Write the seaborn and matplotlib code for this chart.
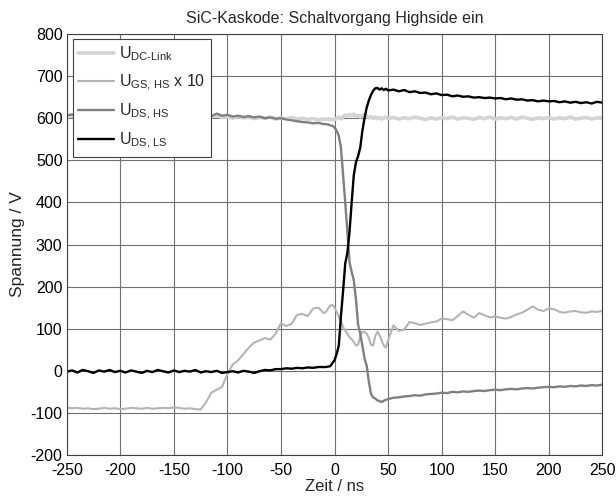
import numpy as np
import pandas as pd
import matplotlib
matplotlib.use("Agg")
import matplotlib.pyplot as plt
import seaborn as sns

# ---- data ----
t_ns = [-250, -245, -240, -235, -230, -225, -220, -215, -210, -205,
        -200, -195, -190, -185, -180, -175, -170, -165, -160, -155,
        -150, -145, -140, -135, -130, -125, -120, -115, -110, -105,
        -100, -95, -90, -85, -80, -75, -70, -65, -60, -55,
        -50, -45, -40, -35, -30, -25, -20, -15, -10,
        -8, -6, -4, -2, 0, 2, 4, 6, 8, 10, 12, 14, 16, 18, 20,
        22, 24, 26, 28, 30, 32, 34, 36, 38, 40, 42, 44, 46, 48, 50,
        55, 60, 65, 70, 75, 80, 85, 90, 95, 100,
        105, 110, 115, 120, 125, 130, 135, 140, 145, 150,
        155, 160, 165, 170, 175, 180, 185, 190, 195, 200,
        205, 210, 215, 220, 225, 230, 235, 240, 245, 250]

u_dc_link = [603, 606, 601, 604, 607, 602, 605, 600, 604, 606,
             601, 605, 603, 600, 604, 606, 602, 605, 601, 603,
             606, 602, 604, 600, 605, 603, 601, 604, 606, 602,
             603, 600, 604, 601, 603, 599, 602, 600, 603, 598,
             601, 599, 602, 598, 600, 597, 599, 596, 598,
             597, 599, 596, 598, 597, 600, 603, 598, 604, 608, 605, 609, 606, 610, 604,
             607, 603, 608, 602, 606, 601, 604, 600, 603, 599, 602, 598, 601, 603, 599,
             602, 598, 601, 599, 603, 600, 597, 601, 598, 602,
             599, 603, 598, 601, 600, 597, 602, 599, 603, 598,
             601, 599, 602, 598, 603, 600, 597, 601, 599, 602,
             598, 601, 599, 603, 598, 600, 602, 598, 601, 600]

u_gs_hs_x10 = [-87, -89, -88, -90, -89, -91, -90, -88, -90, -89,
               -91, -90, -88, -89, -90, -88, -90, -89, -88, -89,
               -87, -88, -90, -89, -91, -92, -75, -52, -45, -38,
               -8, 15, 25, 40, 55, 67, 72, 78, 74, 88,
               113, 106, 112, 133, 135, 130, 148, 150, 137,
               140, 148, 155, 157, 150, 140, 129, 118, 104, 95, 88, 80, 75, 68, 60,
               62, 82, 93, 92, 89, 78, 62, 60, 82, 93, 85, 72, 60, 55, 72,
               108, 95, 98, 116, 113, 109, 112, 115, 117, 124,
               123, 120, 130, 141, 133, 126, 137, 132, 127, 129,
               126, 124, 128, 134, 138, 145, 153, 145, 142, 148,
               146, 140, 138, 141, 142, 139, 138, 141, 140, 142]

u_ds_hs = [607, 609, 605, 608, 606, 610, 607, 604, 608, 606,
           609, 605, 607, 604, 608, 606, 603, 607, 605, 608,
           604, 607, 605, 603, 606, 604, 607, 605, 611, 606,
           608, 604, 606, 603, 605, 602, 604, 600, 602, 599,
           600, 597, 595, 593, 591, 590, 588, 589, 586,
           586, 585, 583, 582, 578, 570, 558, 530, 465, 400, 330, 258, 235, 215, 170,
           110, 88, 60, 30, 12, -25, -55, -63, -66, -70, -72, -74, -71, -69, -67,
           -64, -63, -61, -60, -58, -59, -56, -55, -54, -52,
           -53, -50, -51, -49, -50, -48, -47, -48, -46, -45,
           -46, -44, -43, -44, -42, -41, -42, -40, -39, -38,
           -39, -37, -38, -36, -37, -35, -36, -34, -35, -33]

u_ds_ls = [-2, 1, -4, 2, -1, -5, 1, -2, 2, -3,
           0, -4, 1, -2, -5, 0, -3, 2, -1, -4,
           1, -3, 0, -2, 2, -4, -1, -3, 0, -5,
           -3, -1, -4, 0, -2, -5, -1, 2, 1, 4,
           4, 6, 5, 7, 6, 8, 7, 9, 9,
           9, 10, 11, 18, 25, 40, 60, 130, 190, 255, 280, 330, 400, 465, 495,
           510, 530, 570, 600, 625, 642, 655, 665, 671, 672, 668, 671, 667, 670, 666,
           668, 664, 667, 662, 664, 660, 661, 657, 659, 655,
           656, 652, 654, 651, 652, 649, 650, 648, 649, 647,
           648, 645, 647, 644, 645, 642, 643, 640, 642, 640,
           641, 638, 640, 637, 639, 636, 638, 635, 639, 637]

series_labels = [r'U$_\text{DC-Link}$', r'U$_\text{GS, HS}$ x 10',
                 r'U$_\text{DS, HS}$', r'U$_\text{DS, LS}$']
x_ticks = [-250, -200, -150, -100, -50, 0, 50, 100, 150, 200, 250]
y_ticks = [-200, -100, 0, 100, 200, 300, 400, 500, 600, 700, 800]

# ---- style ----
sns.set_style("white")
plt.rcParams['font.family'] = ['Liberation Sans', 'DejaVu Sans']
plt.rcParams['axes.unicode_minus'] = False
plt.rcParams['mathtext.fontset'] = 'custom'
plt.rcParams['mathtext.rm'] = 'Liberation Sans'
plt.rcParams['mathtext.it'] = 'Liberation Sans:italic'
plt.rcParams['mathtext.bf'] = 'Liberation Sans:bold'

fig = plt.figure(figsize=(6.16, 4.97), dpi=100)
ax = fig.add_axes([0.1083, 0.0845, 0.8695, 0.847])

series = [u_dc_link, u_gs_hs_x10, u_ds_hs, u_ds_ls]
colors = ['#d4d4d4', '#b4b4b4', '#808080', '#000000']
widths = [2.6, 1.5, 1.7, 1.7]
for vals, lab, c, w in zip(series, series_labels, colors, widths):
    sns.lineplot(x=t_ns, y=vals, ax=ax, color=c, lw=w, label=lab,
                 sort=False, estimator=None)

ax.set_xlim(-250, 250)
ax.set_ylim(-200, 800)
ax.set_xticks(x_ticks)
ax.set_yticks(y_ticks)
ax.grid(True, color='#707070', lw=0.8)
ax.set_axisbelow(True)
for s in ax.spines.values():
    s.set_color('#404040')
    s.set_linewidth(0.8)
ax.tick_params(axis='both', length=0, labelsize=11.5, colors='black')
ax.tick_params(axis='x', pad=5.5)
ax.tick_params(axis='y', pad=3)
ax.set_xlabel('Zeit / ns', fontsize=12, labelpad=1)
ax.set_ylabel('Spannung / V', fontsize=12.5, labelpad=4)
ax.set_title('SiC-Kaskode: Schaltvorgang Highside ein', fontsize=11.5, pad=8)

leg = ax.legend(loc='upper left', bbox_to_anchor=(0.011, 0.988), fontsize=11.5,
                frameon=True, fancybox=False, framealpha=1, edgecolor='#404040',
                handlelength=2.25, handletextpad=0.3, labelspacing=0.56,
                borderpad=0.35, borderaxespad=0)
leg.get_frame().set_linewidth(0.8)

fig.savefig('out.png', dpi=100)
